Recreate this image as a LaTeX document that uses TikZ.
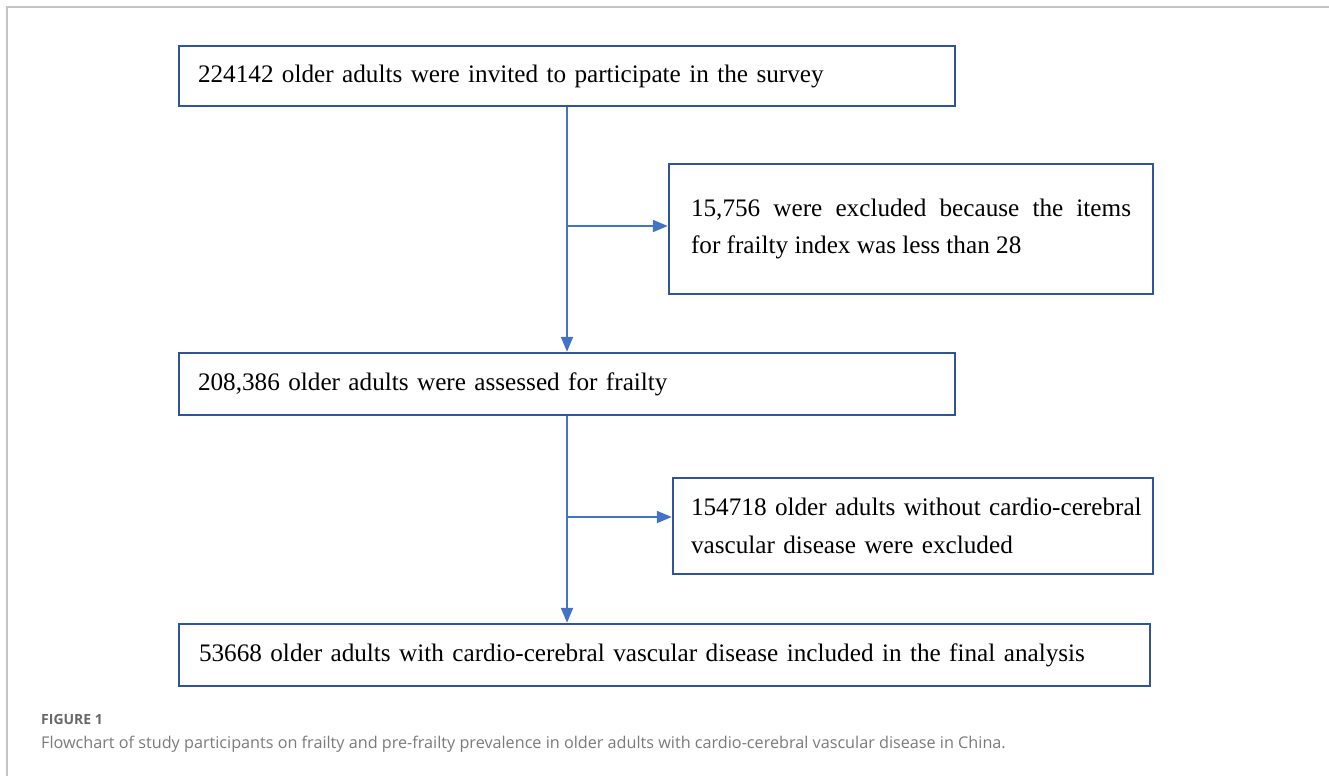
\documentclass[tikz,border=0pt]{standalone}
\usepackage{fontspec}
\setmainfont{Liberation Serif}
\newfontfamily\captionfont{Open Sans}
\usepackage{xcolor}
\usepackage{tikz}
\usetikzlibrary{positioning, calc, arrows.meta}

\definecolor{boxblue}{HTML}{2F5597}
\definecolor{arrowblue}{HTML}{4472C4}
\definecolor{framegray}{HTML}{C4C4C4}
\definecolor{captiongray}{HTML}{7A7A7A}

\tikzset{
    flowbox/.style={draw=boxblue, line width=2.4pt, fill=white, align=left, inner ysep=0pt,
        font=\fontsize{25.2}{37.5}\selectfont},
    flowarrow/.style={draw=arrowblue, line width=2pt, -{Triangle[length=15pt, width=12pt]}},
}

\begin{document}
\begin{tikzpicture}[x=1pt, y=-1pt]
    \useasboundingbox (0,0) rectangle (1329,776);
    % Page frame
    \draw[framegray, line width=2pt] (7,776) -- (7,7) -- (1329,7);

    % Main flow
    \node[flowbox, text width=738pt, inner xsep=19pt, minimum height=60pt] (invite) at (567,76)
        {224142 older adults were invited to participate in the survey};
    \node[flowbox, text width=738pt, inner xsep=19pt, minimum height=62pt] (assess) at (567,384)
        {208,386 older adults were assessed for frailty};
    \node[flowbox, text width=931pt, inner xsep=20pt, minimum height=62pt] (final) at (664.5,655)
        {53668 older adults with cardio-cerebral vascular disease included in the final analysis};

    % Exclusions
    \node[flowbox, text width=440pt, inner xsep=22pt, minimum height=130pt, align=justify] (excl1) at (911,229)
        {15,756 were excluded because the items\linebreak for frailty index was less than 28};
    \node[flowbox, text width=444pt, inner xsep=18pt, minimum height=96pt] (excl2) at (913,526)
        {\mbox{154718 older adults without cardio-cerebral}\\vascular disease were excluded};

    % Arrows
    \coordinate (split1) at (567,226);
    \coordinate (split2) at (567,517);
    \draw[flowarrow] (invite.south) -- (assess.north);
    \draw[flowarrow] (split1) -- (split1 -| excl1.west);
    \draw[flowarrow] (assess.south) -- (assess.south |- final.north);
    \draw[flowarrow] (split2) -- (split2 -| excl2.west);

    % Caption
    \node[anchor=base west, inner sep=0pt, text=captiongray!85!black, font=\captionfont\bfseries\fontsize{14}{16}\selectfont] (figlabel) at (41,724) {FIGURE 1};
    \node[anchor=base west, inner sep=0pt, text=captiongray, font=\captionfont\fontsize{16.2}{20}\selectfont] (figcaption) at (41,748)
        {Flowchart of study participants on frailty and pre-frailty prevalence in older adults with cardio-cerebral vascular disease in China.};
\end{tikzpicture}
\end{document}
